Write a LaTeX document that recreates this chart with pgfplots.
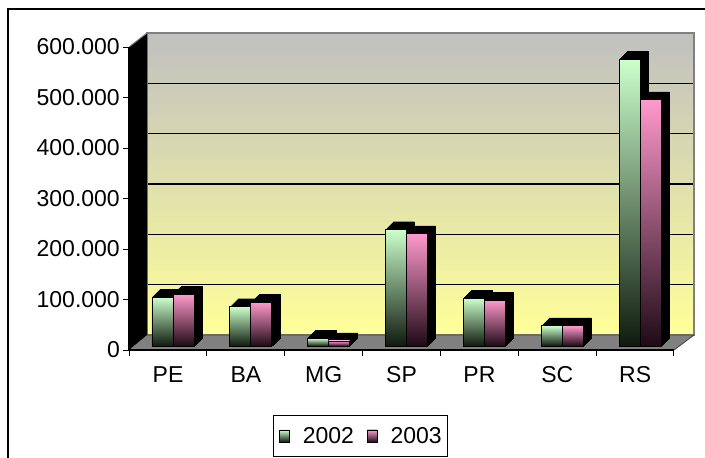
\documentclass[border=0pt]{standalone}
\usepackage{pgfplots}
\pgfplotsset{compat=1.18}
\usepackage{pgfplotstable}
\usepackage{fontspec}
\setmainfont{Liberation Sans}

\definecolor{mintTop}{HTML}{CCFFCC}
\definecolor{mintBot}{HTML}{0E1A0E}
\definecolor{pinkTop}{HTML}{FF99CC}
\definecolor{pinkBot}{HTML}{1E0A16}
\definecolor{wallTop}{HTML}{C0C0C0}
\definecolor{wallMid}{HTML}{E4E4A8}
\definecolor{wallBot}{HTML}{FFFF99}
\definecolor{floorGray}{HTML}{808080}

% values per state
\pgfplotstableread{
idx state v2002 v2003
0   PE    97000  103000
1   BA    78000   87000
2   MG    15000   10000
3   SP   231000  223000
4   PR    95000   91000
5   SC    40000   40000
6   RS   569000  489000
}\datatable

\pgfplotsset{
  barplane/.style={
    scale only axis, width=545bp, height=302bp,
    xmin=-0.5, xmax=6.5, ymin=0, ymax=600000,
    hide axis, clip=false,
  },
  s02/.style={ybar, bar width=21bp, bar shift=-10.5bp},
  s03/.style={ybar, bar width=21bp, bar shift=10.5bp},
  chartfont/.style={font=\fontsize{23bp}{27bp}\selectfont},
}

\begin{document}
\begin{tikzpicture}
% back wall with gridlines
\begin{axis}[
  at={(147bp,123bp)}, anchor=south west,
  scale only axis, width=547bp, height=302bp,
  xmin=0, xmax=1, ymin=0, ymax=600000,
  xtick=\empty, ytick={100000,200000,300000,400000,500000},
  yticklabels={}, major tick length=0pt, scaled y ticks=false,
  ymajorgrids, major grid style={black, line width=1.3bp},
  axis line style={floorGray, line width=1.5bp},
  axis background/.style={top color=wallTop, middle color=wallMid, bottom color=wallBot},
]
\addplot[draw=none] coordinates {(0,0) (1,600000)};
\end{axis}

% floor and left wall
\begin{scope}[x=1bp, y=1bp]
\fill[floorGray] (129,108) -- (674,108) -- (694,123) -- (147,123) -- cycle;
\draw[black!75, line width=0.8bp] (674,108) -- (694,123) -- (147,123);
\fill[black] (129,108) -- (129,411) -- (147,425) -- (147,123) -- cycle;
\draw[floorGray, line width=1bp] (129,411) -- (147,425);
\end{scope}

% depth of the columns
\foreach \d in {1,...,8} {
  \begin{axis}[barplane, at={({(134+\d)*1bp},{(112+\d)*1bp})}, anchor=south west]
    \addplot[s02, fill=black, draw=black] table[x=idx, y=v2002] {\datatable};
    \addplot[s03, fill=black, draw=black] table[x=idx, y=v2003] {\datatable};
  \end{axis}
}

% front faces of the columns, one path per column so each gets its own shading
\begin{axis}[barplane, at={(134bp,112bp)}, anchor=south west]
  \pgfplotsinvokeforeach{0,...,6}{
    \addplot[s02, draw=black, line width=0.8bp, top color=mintTop, bottom color=mintBot]
      table[x=idx, y=v2002, restrict x to domain=#1:#1] {\datatable};
    \addplot[s03, draw=black, line width=0.8bp, top color=pinkTop, bottom color=pinkBot]
      table[x=idx, y=v2003, restrict x to domain=#1:#1] {\datatable};
  }
\end{axis}

% front axes, labels and legend
\begin{axis}[
  at={(129bp,108bp)}, anchor=south west,
  scale only axis, width=545bp, height=303bp,
  xmin=-0.5, xmax=6.5, ymin=0, ymax=600000,
  axis x line*=bottom, axis y line*=left,
  axis line style={black, line width=1.3bp},
  tick style={black, line width=1bp},
  tick align=outside, major tick length=6bp,
  xtick={-0.5,0.5,...,6.5},
  xticklabels={PE,BA,MG,SP,PR,SC,RS,{}},
  xticklabel style={xshift=39bp, inner sep=0pt, yshift=-10bp},
  ytick={0,100000,200000,300000,400000,500000,600000},
  yticklabels={0,100.000,200.000,300.000,400.000,500.000,600.000},
  yticklabel style={inner sep=0pt, xshift=-3bp},
  scaled y ticks=false,
  tick label style={chartfont},
  legend columns=2,
  legend style={at={(0.4248,-0.2838)}, anchor=center, draw=black,
    line width=1.3bp, chartfont, inner xsep=6bp, inner ysep=12bp,
    nodes={inner sep=0pt},
    /tikz/every odd column/.append style={column sep=13bp},
    /tikz/every even column/.append style={column sep=13bp}},
]
\addlegendimage{legend image code/.code={
  \draw[draw=black, line width=0.6bp, top color=mintTop, bottom color=mintBot]
    (0bp,-6bp) rectangle (10bp,6bp);}}
\addlegendentry{2002}
\addlegendimage{legend image code/.code={
  \draw[draw=black, line width=0.6bp, top color=pinkTop, bottom color=pinkBot]
    (0bp,-6bp) rectangle (10bp,6bp);}}
\addlegendentry{2003}
\end{axis}

% chart frame
\draw[black, line width=2bp] (8bp,-5bp) -- (8bp,449bp) -- (710bp,449bp);

\pgfresetboundingbox
\path[use as bounding box] (0bp,0bp) rectangle (705bp,458bp);
\end{tikzpicture}
\end{document}
